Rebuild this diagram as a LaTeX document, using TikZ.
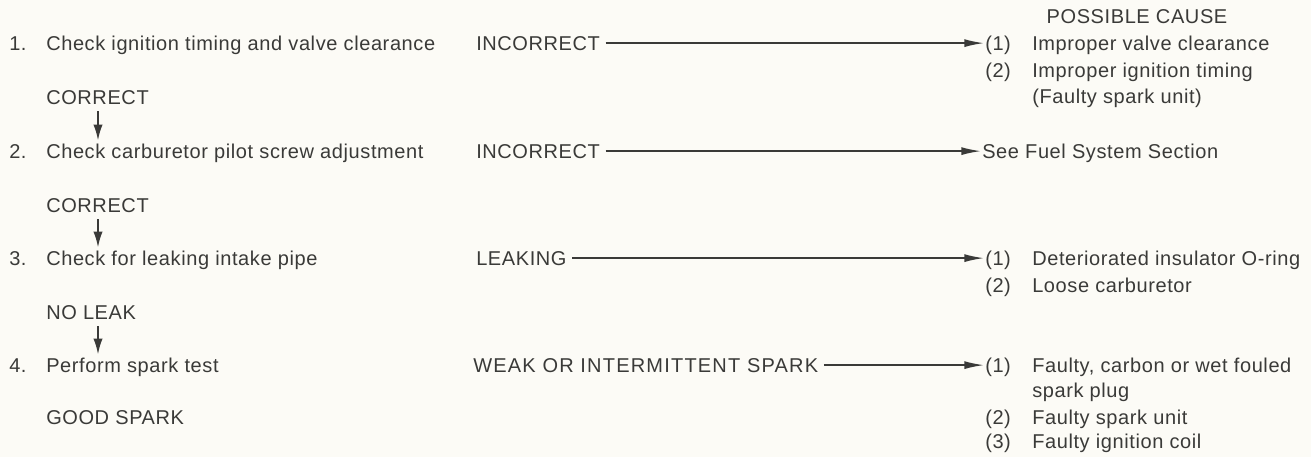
\documentclass[tikz,border=0pt]{standalone}
\usepackage{fontspec}
\setmainfont{Liberation Sans}[LetterSpace=3]
\usepackage{xcolor}
\usetikzlibrary{positioning,arrows.meta}
\definecolor{cink}{RGB}{58,58,56}
\definecolor{cpaper}{RGB}{252,251,246}

\begin{document}
\begin{tikzpicture}[
  x=0.75pt,y=-0.75pt,
  font=\fontsize{15}{20}\selectfont,
  txt/.style={anchor=base west,inner sep=0pt,text=cink},
  down/.style={-{Latex[length=12pt,width=7pt]},cink,line width=1.5pt,shorten <=5pt,shorten >=2pt},
  fail/.style={-{Latex[length=15pt,width=6pt]},cink,line width=1.4pt,shorten <=4pt,shorten >=0.5pt},
]
\fill[cpaper] (0,0) rectangle (1311,457);
\useasboundingbox (0,0) rectangle (1311,457);
% left column: checks and results
\node[txt] (n1) at (9,50)  {1.};
\node[txt] (s1) at (46,50) {Check ignition timing and valve clearance};
\node[txt] (r1) at (46,104) {CORRECT};
\node[txt] (n2) at (9,158) {2.};
\node[txt] (s2) at (46,158) {Check carburetor pilot screw adjustment};
\node[txt] (r2) at (46,212) {CORRECT};
\node[txt] (n3) at (9,265) {3.};
\node[txt] (s3) at (46,265) {Check for leaking intake pipe};
\node[txt] (r3) at (46,319) {NO LEAK};
\node[txt] (n4) at (9,372) {4.};
\node[txt] (s4) at (46,372) {Perform spark test};
\node[txt] (r4) at (46,424) {GOOD SPARK};
\coordinate (ax) at (98,0);
\draw[down] (r1.south -| ax) -- (s2.north -| ax);
\draw[down] (r2.south -| ax) -- (s3.north -| ax);
\draw[down] (r3.south -| ax) -- (s4.north -| ax);
% middle column
\node[txt] (f1) at (476,50)  {INCORRECT};
\node[txt] (f2) at (476,158) {INCORRECT};
\node[txt] (f3) at (476,265) {LEAKING};
\node[txt] (f4) at (473,372) {\addfontfeature{LetterSpace=6}WEAK OR INTERMITTENT SPARK};
% right column: possible causes
\node[text=cink,anchor=base,inner sep=0pt] (head) at (1137,23) {POSSIBLE CAUSE};
\node[txt] (k11) at (985,50)  {(1)};
\node[txt] at (1032,50)  {Improper valve clearance};
\node[txt] (k12) at (985,77)  {(2)};
\node[txt] at (1032,77)  {Improper ignition timing};
\node[txt] at (1032,103) {(Faulty spark unit)};
\node[txt] (k2) at (982,158) {See Fuel System Section};
\node[txt] (k31) at (985,265) {(1)};
\node[txt] at (1032,265) {Deteriorated insulator O-ring};
\node[txt] (k32) at (985,292) {(2)};
\node[txt] at (1032,292) {Loose carburetor};
\node[txt] (k41) at (985,372) {(1)};
\node[txt] at (1032,372) {Faulty, carbon or wet fouled};
\node[txt] at (1032,397) {spark plug};
\node[txt] (k42) at (985,424) {(2)};
\node[txt] at (1032,424) {Faulty spark unit};
\node[txt] (k43) at (985,448) {(3)};
\node[txt] at (1032,448) {Faulty ignition coil};
\draw[fail] (f1.east) -- (f1.east -| k11.west);
\draw[fail] (f2.east) -- (f2.east -| k2.west);
\draw[fail] (f3.east) -- (f3.east -| k31.west);
\draw[fail] (f4.east) -- (f4.east -| k41.west);
\end{tikzpicture}
\end{document}
